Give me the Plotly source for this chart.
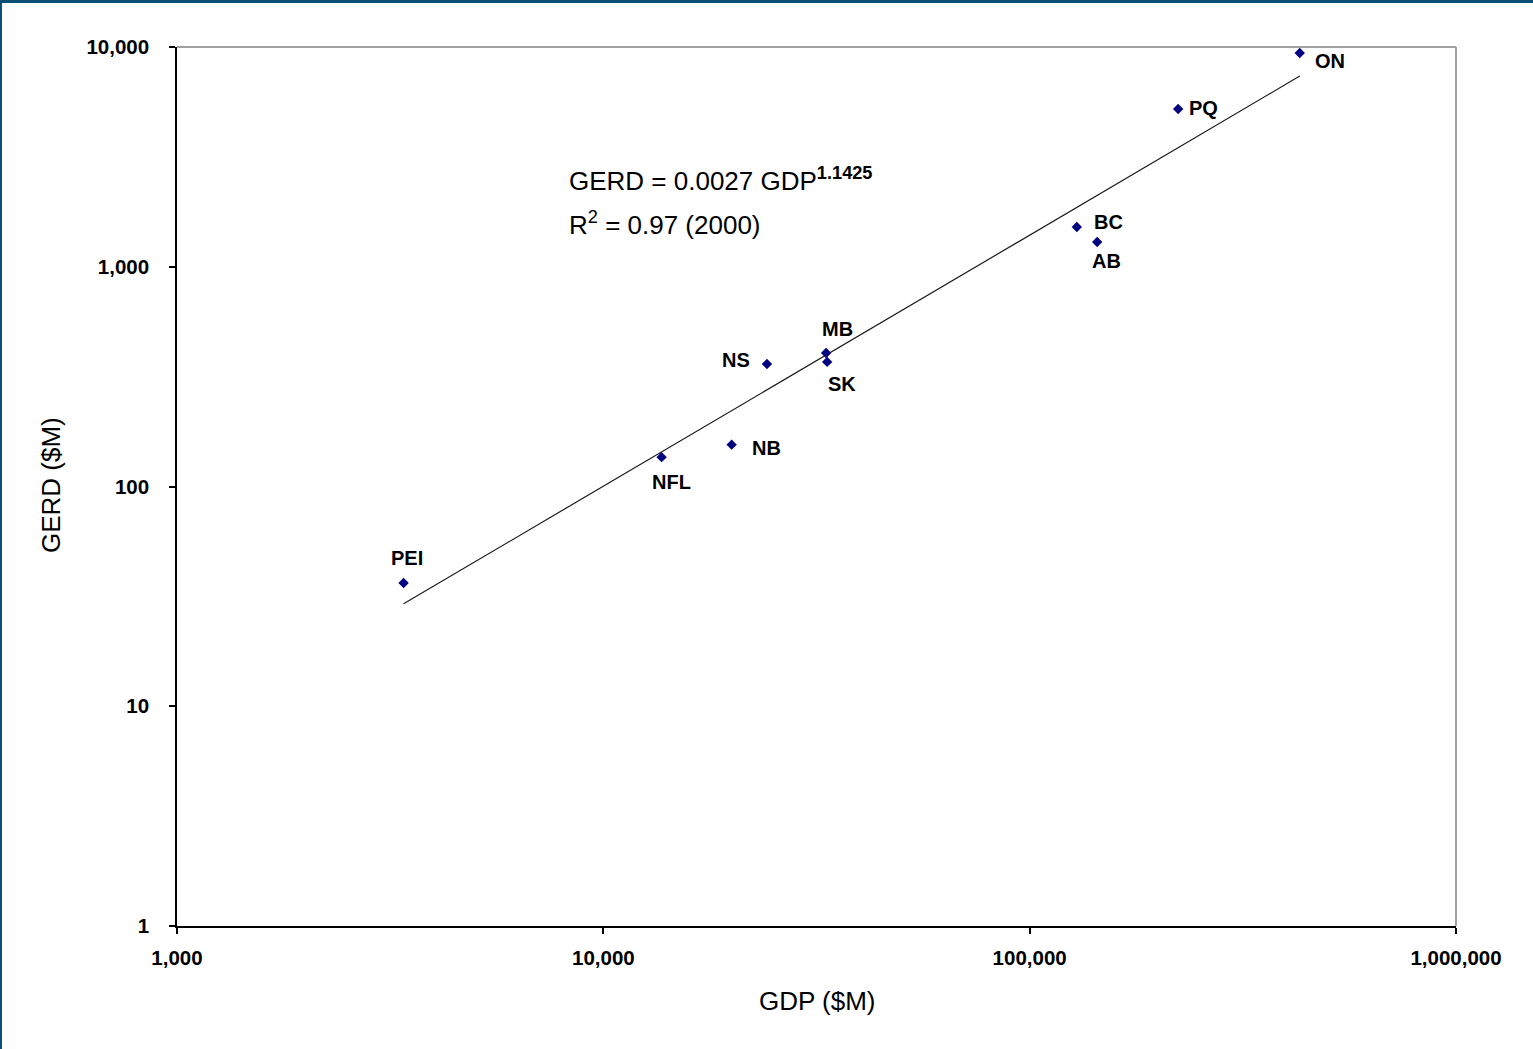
import numpy as np
import plotly.graph_objects as go

# Provincial GDP and gross domestic expenditure on R&D, 2000 ($M)
provinces = ["PEI", "NFL", "NB", "NS", "MB", "SK", "BC", "AB", "PQ", "ON"]
gdp = [3400, 13700, 20000, 24200, 33300, 33500, 129000, 144000, 223000, 430000]
gerd = [36.4, 136, 155, 361, 405, 369, 1517, 1297, 5220, 9390]

# Power-law fit: GERD = a * GDP^b
fit_a = 0.0027
fit_b = 1.1425
fit_r2 = 0.97

x_ticks = [1000, 10000, 100000, 1000000]
x_tick_text = ["1,000", "10,000", "100,000", "1,000,000"]
y_ticks = [1, 10, 100, 1000, 10000]
y_tick_text = ["1", "10", "100", "1,000", "10,000"]

# label placement: (xanchor, yanchor, xshift, yshift)
label_pos = {
    "ON": ("left", "middle", 13, -8),
    "PQ": ("left", "middle", 9, 1),
    "BC": ("left", "middle", 15, 5),
    "AB": ("center", "middle", 9, -19),
    "MB": ("center", "middle", 11, 24),
    "SK": ("center", "middle", 15, -22),
    "NS": ("right", "middle", -15, 4),
    "NB": ("left", "middle", 18, -3),
    "NFL": ("center", "middle", 10, -25),
    "PEI": ("center", "middle", 3, 25),
}

FONT = "Liberation Sans, Arial, sans-serif"
W, H = 1533, 1049
L, R, T, B = 177, 77, 47, 123
PW, PH = W - L - R, H - T - B

fit_x = np.logspace(np.log10(min(gdp)), np.log10(max(gdp)), 60)
fit_y = fit_a * fit_x ** fit_b

fig = go.Figure()
fig.add_trace(go.Scatter(
    x=fit_x, y=fit_y, mode="lines",
    line=dict(color="#1a1a1a", width=1.2),
    hoverinfo="skip", showlegend=False,
))
fig.add_trace(go.Scatter(
    x=gdp, y=gerd, mode="markers", text=provinces,
    marker=dict(symbol="diamond", size=8, color="#000080"),
    showlegend=False,
))

annotations = []
for name, gx, gy in zip(provinces, gdp, gerd):
    xa, ya, dx, dy = label_pos[name]
    annotations.append(dict(
        x=np.log10(gx), y=np.log10(gy), xref="x", yref="y",
        text=f"<b>{name}</b>", showarrow=False,
        xanchor=xa, yanchor=ya, xshift=dx, yshift=dy,
        font=dict(family=FONT, size=20, color="black"),
    ))


def px_x(p):
    return (p - L) / PW


def px_y(p):
    return (H - B - p) / PH


annotations += [
    dict(x=px_x(567), y=px_y(180), xref="paper", yref="paper",
         text=f"GERD = {fit_a} GDP<sup><b>{fit_b}</b></sup>",
         showarrow=False, xanchor="left", yanchor="middle",
         font=dict(family=FONT, size=26, color="black")),
    dict(x=px_x(567), y=px_y(223), xref="paper", yref="paper",
         text=f"R<sup>2</sup> = {fit_r2} (2000)",
         showarrow=False, xanchor="left", yanchor="middle",
         font=dict(family=FONT, size=26, color="black")),
    dict(x=px_x(817), y=px_y(1001), xref="paper", yref="paper",
         text="GDP ($M)", showarrow=False,
         xanchor="center", yanchor="middle",
         font=dict(family=FONT, size=26, color="black")),
    dict(x=px_x(51), y=px_y(485), xref="paper", yref="paper",
         text="GERD ($M)", showarrow=False, textangle=-90,
         xanchor="center", yanchor="middle",
         font=dict(family=FONT, size=26, color="black")),
]

border = "#0b5075"
shapes = [
    # plot frame: top and right in grey
    dict(type="line", xref="paper", yref="paper", x0=0, x1=1, y0=1, y1=1,
         line=dict(color="#a0a0a0", width=2)),
    dict(type="line", xref="paper", yref="paper", x0=1, x1=1, y0=0, y1=1,
         line=dict(color="#a0a0a0", width=2)),
    # page border on top and left edges
    dict(type="rect", xref="paper", yref="paper",
         x0=px_x(0), x1=px_x(W), y0=px_y(0), y1=px_y(3),
         fillcolor=border, line=dict(width=0)),
    dict(type="rect", xref="paper", yref="paper",
         x0=px_x(0), x1=px_x(2), y0=px_y(0), y1=px_y(H),
         fillcolor=border, line=dict(width=0)),
]

axis_common = dict(
    type="log", showgrid=False, zeroline=False,
    showline=True, linecolor="black", linewidth=1.5,
    ticks="outside", ticklen=6, tickwidth=1.5, tickcolor="black",
    tickfont=dict(family=FONT, size=20.5, color="black", weight="bold"),
)

fig.update_layout(
    width=W, height=H,
    margin=dict(l=L, r=R, t=T, b=B, autoexpand=False),
    paper_bgcolor="white", plot_bgcolor="white",
    xaxis=dict(range=[3, 6], tickvals=x_ticks, ticktext=x_tick_text,
               ticklabelstandoff=7, **axis_common),
    yaxis=dict(range=[0, 4], tickvals=y_ticks, ticktext=y_tick_text,
               ticklabelstandoff=16, **axis_common),
    annotations=annotations,
    shapes=shapes,
)

fig.write_html("out.html")
